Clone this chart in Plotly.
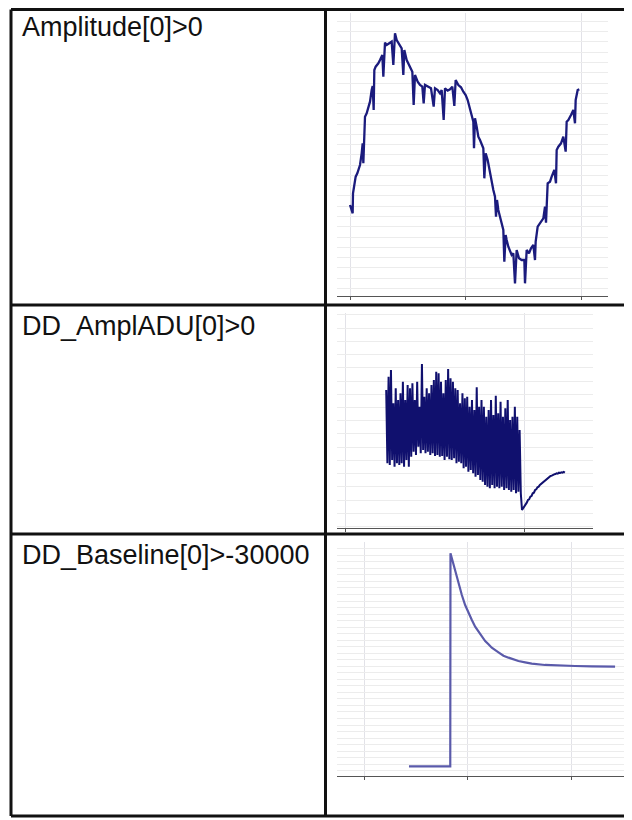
import plotly.graph_objects as go

# page body has an 8px margin, so the figure starts at (8, 8) in the window
OFF = 8
W, H = 624, 812

labels = ["Amplitude[0]>0", "DD_AmplADU[0]>0", "DD_Baseline[0]>-30000"]

# --- Amplitude[0]>0 (sample, amplitude) ---
amp_x = [0, 8, 9, 17, 22, 30, 35, 38, 40, 43, 45, 50, 55, 60, 65, 68, 71, 73, 77, 85,
         90, 97, 100, 103, 105, 110, 117, 125, 130, 133, 135, 140, 147, 155, 160, 163, 170, 180, 187, 191,
         195, 203, 210, 217, 221, 225, 230, 237, 243, 251, 255, 263, 270, 275, 281, 285, 293, 300, 307, 313,
         317, 325, 333, 340, 347, 353, 358, 365, 370, 372, 375, 380, 385, 390, 400, 403, 407, 413, 420, 425,
         430, 435, 438, 441, 445, 450, 455, 460, 463, 467, 470, 475, 485, 490, 495, 500, 507, 515, 523, 525,
         530, 537, 543, 550, 555, 557, 563, 570, 580, 585, 588, 593, 600, 605, 613, 618, 620, 625, 633, 640,
         647, 650, 655, 663, 670, 675, 677, 683, 688]
amp_y = [250, 225, 285, 335, 345, 370, 405, 435, 375, 445, 515, 525, 545, 560, 595, 607, 535, 655, 665, 675,
         685, 700, 635, 715, 737, 730, 735, 740, 670, 755, 765, 745, 735, 720, 640, 715, 685, 665, 650, 550,
         640, 620, 610, 605, 555, 610, 607, 603, 600, 545, 600, 595, 585, 595, 505, 600, 593, 597, 605, 547,
         625, 610, 603, 590, 580, 565, 545, 520, 500, 420, 510, 485, 455, 445, 420, 330, 405, 385, 345, 320,
         295, 275, 215, 265, 235, 215, 195, 175, 80, 160, 145, 125, 100, 105, 15, 115, 90, 85, 85, 15,
         115, 105, 120, 130, 85, 140, 185, 195, 210, 245, 197, 315, 320, 335, 355, 315, 415, 425, 435, 455,
         410, 500, 505, 520, 535, 495, 565, 595, 597]

# --- DD_AmplADU[0]>0 : band of alternating high / low samples, then recovery ---
adu_start = 34
adu_high = [370, 410, 430, 330, 375, 340, 360, 395, 340, 385, 375, 390, 340, 395, 320, 448, 350, 375, 360, 385,
            400, 425, 420, 395, 360, 400, 433, 405, 395, 375, 370, 330, 360, 345, 350, 320, 340, 310, 378, 320,
            340, 320, 290, 310, 340, 295, 353, 300, 335, 290, 315, 340, 280, 290, 320, 290, 250]
adu_low = [150, 145, 160, 140, 150, 145, 150, 140, 160, 140, 170, 185, 175, 200, 180, 190, 180, 185, 175, 180,
           172, 175, 170, 172, 160, 170, 162, 160, 165, 150, 155, 150, 135, 140, 125, 130, 120, 110, 115, 100,
           95, 85, 80, 75, 85, 75, 80, 75, 80, 70, 75, 70, 65, 70, 60, 65, 60]
adu_tail = [10, 15, 20, 25, 32, 40, 42, 50, 52, 60, 62, 70, 72, 78, 80, 85, 88, 92, 95, 98,
            100, 104, 106, 110, 112, 113, 116, 117, 118, 120, 119, 122, 121, 123, 122, 124, 122]

adu_y = []
for hi, lo in zip(adu_high, adu_low):
  adu_y += [hi, lo]
adu_y += adu_tail
adu_x = list(range(adu_start, adu_start + len(adu_y)))

# --- DD_Baseline[0]>-30000 ---
base_x = [43, 83, 83.2, 84.5, 86.1, 87.7, 89.4, 91, 92.6, 94.2, 97.4, 100.6, 103.9, 107.1, 110.3, 113.5,
          116.8, 120, 123.2, 129.7, 134.5, 139.4, 149, 155.5, 161.9, 174.8, 187.7, 203.9, 220, 242.6]
base_y = [65, 65, 3331, 3254, 3152, 3050, 2948, 2856, 2769, 2692, 2539, 2412, 2309, 2207, 2130, 2053,
          1987, 1937, 1885, 1814, 1762, 1732, 1681, 1661, 1640, 1620, 1609, 1604, 1600, 1594]


def px(x):
  return (x - OFF) / W

def py(y):
  return 1 - (y - OFF) / H


fig = go.Figure()
fig.add_trace(go.Scatter(x=amp_x, y=amp_y, mode="lines", line=dict(color="#1b1b7d", width=2.3), xaxis="x", yaxis="y"))
fig.add_trace(go.Scatter(x=adu_x, y=adu_y, mode="lines", line=dict(color="#10106e", width=2), xaxis="x2", yaxis="y2"))
fig.add_trace(go.Scatter(x=base_x, y=base_y, mode="lines", line=dict(color="#5a5aaa", width=2.2), xaxis="x3", yaxis="y3"))

xax = dict(showgrid=True, gridcolor="#e2e2e8", gridwidth=1, zeroline=False, showticklabels=False,
           showline=True, linecolor="#555", linewidth=1, ticks="outside", ticklen=3, tickcolor="#555")
yax = dict(showgrid=True, gridcolor="#ececec", gridwidth=1, zeroline=False, showticklabels=False,
           showline=False, ticks="")

fig.update_layout(
  xaxis=dict(xax, domain=[px(337), px(608)], range=[-39, 774], tick0=0, dtick=347.5, anchor="y"),
  yaxis=dict(yax, domain=[py(296), py(13)], range=[-23, 826], tick0=0, dtick=30.8, anchor="x"),
  xaxis2=dict(xax, domain=[px(337), px(593)], range=[-7.3, 207.6], tick0=0, dtick=150, anchor="y2"),
  yaxis2=dict(yax, domain=[py(528), py(313)], range=[-44, 601], tick0=0, dtick=39.7, anchor="x2"),
  xaxis3=dict(xax, domain=[px(337), 1.0], range=[-26.7, 259], tick0=0, dtick=100, anchor="y3"),
  yaxis3=dict(yax, domain=[py(776.3), py(541.7)], range=[-86, 3509], tick0=0, dtick=100, anchor="x3"),
)

# table borders
borders = [
  (11, 9.5, 632, 9.5), (11, 305, 632, 305), (11, 534, 632, 534), (11, 816, 632, 816),
  (11, 9.5, 11, 816), (325.5, 9.5, 325.5, 816),
]
for x0, y0, x1, y1 in borders:
  fig.add_shape(type="line", xref="paper", yref="paper", x0=px(x0), y0=py(y0), x1=px(x1), y1=py(y1),
                line=dict(color="#111", width=3))

for text, yc in zip(labels, [27, 326, 555]):
  fig.add_annotation(text=text, xref="paper", yref="paper", x=px(20), y=py(yc), xanchor="left", yanchor="middle",
                     showarrow=False, font=dict(family="Liberation Sans, Arial", size=27, color="#111"))

fig.update_layout(width=W, height=H, margin=dict(l=0, r=0, t=0, b=0), showlegend=False,
                  paper_bgcolor="white", plot_bgcolor="white")
fig.write_html("out.html")
